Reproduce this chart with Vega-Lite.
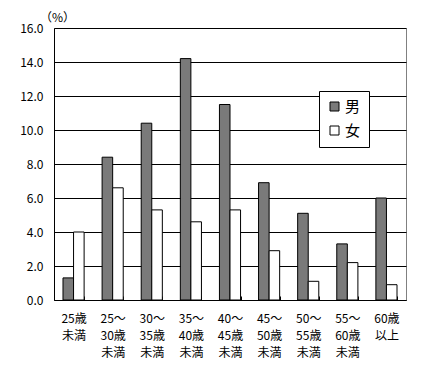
{
  "$schema": "https://vega.github.io/schema/vega-lite/v6.json",
  "width": 352,
  "height": 272,
  "autosize": "none",
  "padding": {"left": 54, "top": 28, "right": 17, "bottom": 73},
  "background": "white",
  "config": {
    "font": "Noto Sans CJK JP",
    "view": {"stroke": "#808080", "strokeWidth": 1}
  },
  "data": {
    "values": [
      {"age": "25歳|未満", "sex": "男", "value": 1.3},
      {"age": "25歳|未満", "sex": "女", "value": 4.0},
      {"age": "25～|30歳|未満", "sex": "男", "value": 8.4},
      {"age": "25～|30歳|未満", "sex": "女", "value": 6.6},
      {"age": "30～|35歳|未満", "sex": "男", "value": 10.4},
      {"age": "30～|35歳|未満", "sex": "女", "value": 5.3},
      {"age": "35～|40歳|未満", "sex": "男", "value": 14.2},
      {"age": "35～|40歳|未満", "sex": "女", "value": 4.6},
      {"age": "40～|45歳|未満", "sex": "男", "value": 11.5},
      {"age": "40～|45歳|未満", "sex": "女", "value": 5.3},
      {"age": "45～|50歳|未満", "sex": "男", "value": 6.9},
      {"age": "45～|50歳|未満", "sex": "女", "value": 2.9},
      {"age": "50～|55歳|未満", "sex": "男", "value": 5.1},
      {"age": "50～|55歳|未満", "sex": "女", "value": 1.1},
      {"age": "55～|60歳|未満", "sex": "男", "value": 3.3},
      {"age": "55～|60歳|未満", "sex": "女", "value": 2.2},
      {"age": "60歳|以上", "sex": "男", "value": 6.0},
      {"age": "60歳|以上", "sex": "女", "value": 0.9}
    ]
  },
  "mark": {"type": "bar", "stroke": "black", "strokeWidth": 1},
  "encoding": {
    "x": {
      "field": "age",
      "type": "nominal",
      "sort": null,
      "scale": {"paddingInner": 0.46, "paddingOuter": 0.23},
      "axis": {
        "title": null,
        "labelAngle": 0,
        "labelExpr": "isValid(datum.value) ? split(datum.value, '|') : ''",
        "labelFontSize": 12,
        "labelColor": "black",
        "labelLineHeight": 17,
        "labelBaseline": "top",
        "labelPadding": 17,
        "tickBand": "extent",
        "tickSize": -4,
        "tickColor": "black",
        "domainColor": "black",
        "labelFont": "Noto Sans CJK JP"
      }
    },
    "xOffset": {"field": "sex", "type": "nominal", "sort": ["男", "女"], "scale": {"paddingInner": 0, "paddingOuter": 0}},
    "y": {
      "field": "value",
      "type": "quantitative",
      "scale": {"domain": [0, 16], "nice": false},
      "axis": {
        "values": [0, 2, 4, 6, 8, 10, 12, 14, 16],
        "format": ".1f",
        "title": "（%）",
        "titleAngle": 0,
        "titleX": 3,
        "titleY": -11,
        "titleAlign": "center",
        "titleBaseline": "middle",
        "titleFontSize": 12,
        "titleFontWeight": "normal",
        "titleColor": "black",
        "labelFontSize": 12,
        "labelColor": "black",
        "labelPadding": 11,
        "ticks": false,
        "domainColor": "black",
        "grid": true,
        "gridColor": "black",
        "gridOpacity": 1,
        "gridWidth": 1
      }
    },
    "color": {
      "field": "sex",
      "type": "nominal",
      "scale": {"domain": ["男", "女"], "range": ["#7a7a7a", "#ffffff"]},
      "legend": {
        "title": null,
        "orient": "none",
        "legendX": 265,
        "legendY": 63,
        "padding": 8,
        "strokeColor": "black",
        "fillColor": "white",
        "symbolType": "square",
        "symbolSize": 81,
        "symbolStrokeColor": "black",
        "symbolStrokeWidth": 1,
        "symbolOpacity": 1,
        "labelFontSize": 15,
        "labelColor": "black",
        "rowPadding": 8,
        "labelOffset": 3
      }
    }
  }
}
